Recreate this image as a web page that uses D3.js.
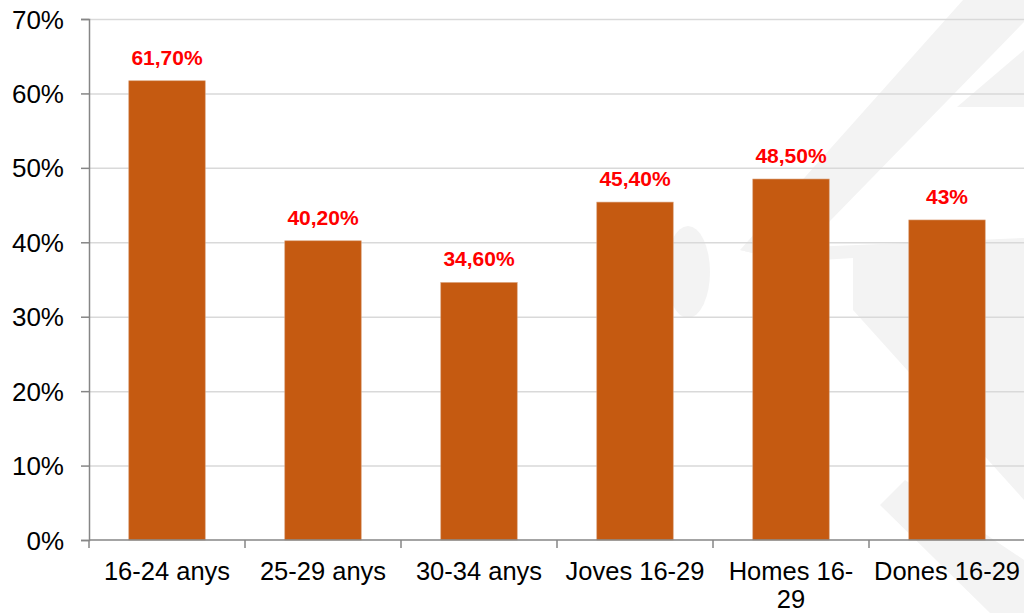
<!DOCTYPE html>
<html>
<head>
<meta charset="utf-8">
<script src="https://cdn.jsdelivr.net/npm/d3@7"></script>
<style>
  html, body { margin: 0; padding: 0; background: #ffffff; }
  svg { display: block; }
  text { font-family: "Liberation Sans", Arial, sans-serif; }
</style>
</head>
<body>
<svg id="chart" width="1024" height="613"></svg>
<script>
// ---- data ----
const categories = ["16-24 anys", "25-29 anys", "30-34 anys", "Joves 16-29", "Homes 16-29", "Dones 16-29"];
const values = [61.7, 40.2, 34.6, 45.4, 48.5, 43.0];
const valueLabels = ["61,70%", "40,20%", "34,60%", "45,40%", "48,50%", "43%"];
const yTicks = [0, 10, 20, 30, 40, 50, 60, 70];
const yTickLabels = ["0%", "10%", "20%", "30%", "40%", "50%", "60%", "70%"];

// ---- layout ----
const W = 1024, H = 613;
const plot = { left: 89, right: 1025, top: 19, bottom: 540 };
const svg = d3.select("#chart");

// faint background watermark
const wm = svg.append("g").attr("fill", "#f3f3f3");
const wmShapes = [
  [[963,0],[1024,0],[1024,22],[790,262],[740,250]],
  [[740,250],[1024,238],[1024,500],[853,310],[853,258],[790,262]],
  [[1024,50],[1024,107],[957,107]],
  [[905,480],[1024,560],[1024,613],[990,613],[880,505]]
];
wm.selectAll("path").data(wmShapes).join("path")
  .attr("d", d => "M" + d.map(p => p.join(",")).join("L") + "Z");
wm.append("ellipse").attr("cx", 688).attr("cy", 272).attr("rx", 22).attr("ry", 46);

const x = d3.scaleBand().domain(categories).range([plot.left, plot.right]).paddingInner(0.51).paddingOuter(0.255);
const y = d3.scaleLinear().domain([0, 70]).range([plot.bottom, plot.top]);

// gridlines
svg.append("g").selectAll("line").data(yTicks.filter(t => t > 0)).join("line")
  .attr("x1", plot.left).attr("x2", W)
  .attr("y1", d => y(d) + 0.5).attr("y2", d => y(d) + 0.5)
  .attr("stroke", "#d9d9d9").attr("stroke-width", 1.5);

// bars
svg.append("g").selectAll("rect").data(values).join("rect")
  .attr("x", (d, i) => x(categories[i]))
  .attr("width", x.bandwidth())
  .attr("y", d => y(d))
  .attr("height", d => y(0) - y(d))
  .attr("fill", "#c55a11")
  .attr("stroke", "#d9a07a").attr("stroke-width", 0.6);

// value labels
svg.append("g").selectAll("text").data(values).join("text")
  .attr("x", (d, i) => x(categories[i]) + x.bandwidth() / 2)
  .attr("y", d => y(d) - 16)
  .attr("text-anchor", "middle")
  .attr("fill", "#ff0000")
  .attr("font-weight", "bold")
  .attr("font-size", "21px")
  .text((d, i) => valueLabels[i]);

// y axis
const yAxis = d3.axisLeft(y).tickValues(yTicks)
  .tickFormat((d, i) => yTickLabels[i]).tickSize(8).tickPadding(17);
const gy = svg.append("g").attr("transform", `translate(${plot.left},0)`).call(yAxis);
gy.select(".domain").attr("stroke", "#868686").attr("stroke-width", 1.5);
gy.selectAll(".tick line").attr("stroke", "#868686").attr("stroke-width", 1.5);
gy.selectAll(".tick text").attr("font-size", "26px").attr("fill", "#000")
  .attr("font-family", "'Liberation Sans', Arial, sans-serif").attr("dy", "0.35em");

// x axis
const gx = svg.append("g").attr("transform", `translate(0,${plot.bottom})`);
gx.append("line").attr("x1", plot.left).attr("x2", W).attr("y1", 0).attr("y2", 0)
  .attr("stroke", "#868686").attr("stroke-width", 1.5);
const boundaries = categories.map(c => x(c) - x.step() * x.paddingInner() / 2).concat([plot.right]);
gx.selectAll("line.tk").data(boundaries).join("line").attr("class", "tk")
  .attr("x1", d => d).attr("x2", d => d).attr("y1", 0).attr("y2", 8)
  .attr("stroke", "#868686").attr("stroke-width", 1.5);

const catText = gx.selectAll("text").data(categories).join("text")
  .attr("x", d => x(d) + x.bandwidth() / 2)
  .attr("y", 39.5)
  .attr("text-anchor", "middle")
  .attr("font-size", "25.5px")
  .attr("fill", "#000");

// wrap labels that do not fit in a category slot (break after a hyphen or space)
catText.each(function(d) {
  const t = d3.select(this);
  t.text(d);
  const maxW = x.step() - 8;
  if (this.getComputedTextLength() > maxW) {
    const cut = Math.max(d.lastIndexOf("-") + 1, d.lastIndexOf(" ") + 1);
    const a = d.slice(0, cut), b = d.slice(cut);
    t.text(null);
    t.append("tspan").attr("x", x(d) + x.bandwidth() / 2).attr("dy", 0).text(a);
    t.append("tspan").attr("x", x(d) + x.bandwidth() / 2).attr("dy", 28.5).text(b);
  }
});
</script>
</body>
</html>
